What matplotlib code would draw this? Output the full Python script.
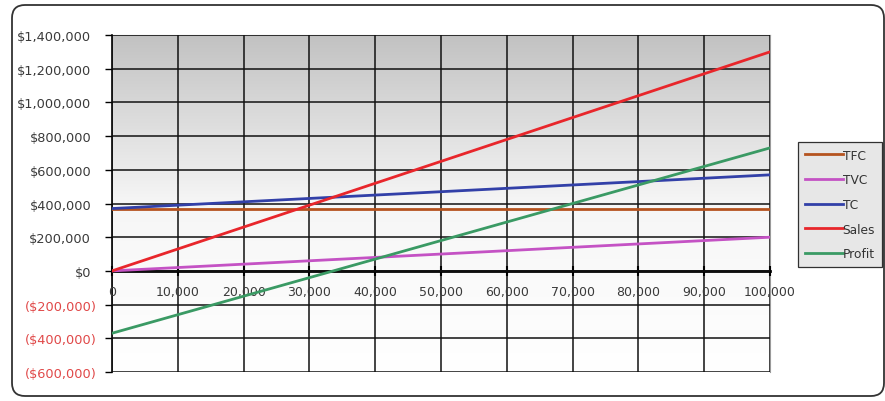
import numpy as np
import matplotlib
matplotlib.use('Agg')
import matplotlib.pyplot as plt
from matplotlib.patches import FancyBboxPatch
from matplotlib.transforms import IdentityTransform, ScaledTranslation
from matplotlib.ticker import FuncFormatter

plt.rcParams['font.family'] = ['DejaVu Sans']

# units sold
units = [0, 10000, 20000, 30000, 40000, 50000, 60000, 70000, 80000, 90000, 100000]
# total fixed cost
tfc = [370000, 370000, 370000, 370000, 370000, 370000, 370000, 370000, 370000, 370000, 370000]
# total variable cost
tvc = [0, 20000, 40000, 60000, 80000, 100000, 120000, 140000, 160000, 180000, 200000]
# total cost
tc = [370000, 390000, 410000, 430000, 450000, 470000, 490000, 510000, 530000, 550000, 570000]
sales = [0, 130000, 260000, 390000, 520000, 650000, 780000, 910000, 1040000, 1170000, 1300000]
profit = [-370000, -260000, -150000, -40000, 70000, 180000, 290000, 400000, 510000, 620000, 730000]

series = [('TFC', tfc, '#b5531f'),
          ('TVC', tvc, '#c452c4'),
          ('TC', tc, '#3240a8'),
          ('Sales', sales, '#e8262b'),
          ('Profit', profit, '#3a9a64')]

fig = plt.figure(figsize=(8.85, 4.02), dpi=100)

# rounded chart border, in pixels
frame = FancyBboxPatch((12, 5), 872, 391,
                       boxstyle='round,pad=0,rounding_size=13',
                       transform=IdentityTransform(), facecolor='none',
                       edgecolor='#333333', linewidth=1.3, zorder=-1)
fig.patches.append(frame)

ax = fig.add_axes([112 / 885, 29 / 402, 658 / 885, 337 / 402])
ax.set_xlim(0, 100000)
ax.set_ylim(-600000, 1400000)

# gray to white gradient in the plot area
grad = np.linspace(0, 1, 256).reshape(-1, 1)
ax.imshow(grad, extent=[0, 1, 0, 1], transform=ax.transAxes, aspect='auto',
          cmap=matplotlib.colors.LinearSegmentedColormap.from_list(
              'bg', ['#ffffff', '#f6f6f6', '#c2c2c2']),
          origin='lower', zorder=0)

ax.set_xticks(units)
ax.set_yticks(np.arange(-600000, 1400001, 200000))
ax.grid(True, color='#111111', linewidth=1.1, zorder=1)
ax.set_axisbelow(False)

for name, vals, col in series:
    ax.plot(units, vals, color=col, linewidth=2.0, label=name, zorder=3)

ax.spines['bottom'].set_position(('data', 0))
ax.spines['bottom'].set_linewidth(2.0)
ax.spines['bottom'].set_color('black')
ax.spines['bottom'].set_zorder(2)
ax.spines['left'].set_color('black')
ax.spines['left'].set_linewidth(1.2)
ax.spines['top'].set_color('#9a9a9a')
ax.spines['right'].set_color('#9a9a9a')

ax.tick_params(axis='x', direction='inout', length=7, width=1.5, pad=7,
               labelsize=9, labelcolor='#3a3a3a')
ax.tick_params(axis='y', direction='out', length=5, width=1, pad=10,
               labelsize=9.3)
ax.xaxis.set_major_formatter(FuncFormatter(lambda v, p: f'{int(v):,}'))


def money(v, p):
    if v < 0:
        return f'(${int(-v):,})'
    return f'${int(v):,}'


ax.yaxis.set_major_formatter(FuncFormatter(money))
# negatives in red, with the closing bracket hanging past the column
shift = ScaledTranslation(6 / 100, 0, fig.dpi_scale_trans)
for lbl, v in zip(ax.get_yticklabels(), ax.get_yticks()):
    if v < 0:
        lbl.set_color('#e04848')
        lbl.set_transform(lbl.get_transform() + shift)
    else:
        lbl.set_color('#3a3a3a')

leg = fig.legend(loc='upper left', bbox_to_anchor=(798 / 885, 1 - 143 / 402),
                 frameon=True, fontsize=8.8, handlelength=3.1,
                 handletextpad=0.0, labelspacing=0.95, borderpad=0.55,
                 fancybox=False, borderaxespad=0)
leg.get_frame().set_edgecolor('black')
leg.get_frame().set_facecolor('#e2e2e2')
leg.get_frame().set_linewidth(0.9)
for t in leg.get_texts():
    t.set_color('#333333')

fig.savefig('out.png', dpi=100)
